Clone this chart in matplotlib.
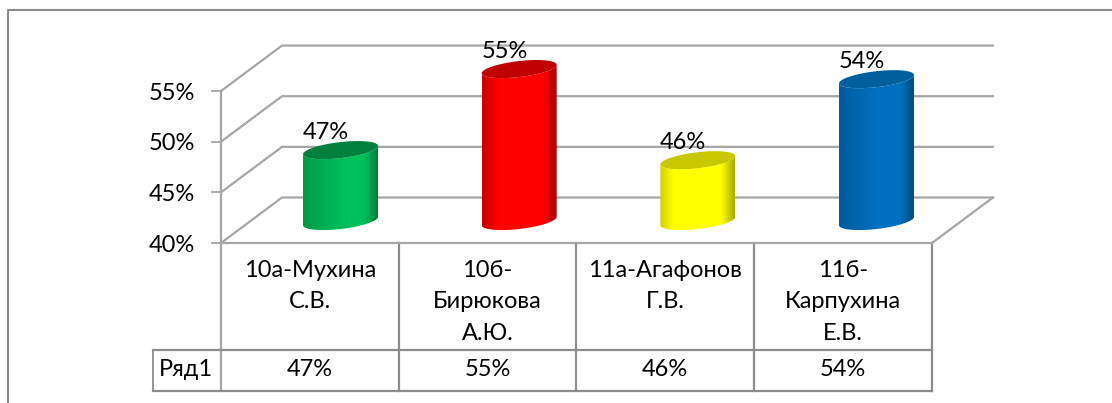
import matplotlib
matplotlib.use('Agg')
import matplotlib.pyplot as plt
from matplotlib.colors import LinearSegmentedColormap
from matplotlib.patches import Polygon
import numpy as np

plt.rcParams['font.family'] = ['Lato', 'Open Sans', 'DejaVu Sans']

W, H = 1112, 403

groups = ['10а-Мухина\nС.В.', '10б-\nБирюкова\nА.Ю.', '11а-Агафонов\nГ.В.', '11б-\nКарпухина\nЕ.В.']
values = [47, 55, 46, 54]
yticks = [40, 45, 50, 55]
series_name = 'Ряд1'
top_colors = ['#007f3d', '#c00000', '#c8c800', '#005f9f']
mid_colors = ['#00c05a', '#ff0000', '#ffff00', '#0070c0']
left_colors = ['#009c49', '#c80000', '#d0d000', '#005c9e']
right_colors = ['#007a3a', '#a00000', '#a8a800', '#00497d']
mid_stops = [0.55, 0.22, 0.18, 0.5]

grid_col = '#a6a6a6'
dark_col = '#8c8c8c'
txt_col = '#000000'

# pixel layout of the plot: category unit and percent unit
x0_px, y40_px = 221, 243
cat_px = 177.75
pct_px = 10.13
dx = 61 / cat_px        # oblique depth, in data units
dy = 45.5 / pct_px

fig = plt.figure(figsize=(W / 100, H / 100), dpi=100)
ax = fig.add_axes([0, 0, 1, 1])
ax.axis('off')


def px_x(p):
    return (p - x0_px) / cat_px


def px_y(p):
    return 40 + (y40_px - p) / pct_px


# outer frame, only left and top are visible
ax.plot([px_x(8), px_x(8), px_x(W)], [px_y(H), px_y(10), px_y(10)], color=dark_col, lw=1.5)

n = len(groups)

# walls and gridlines
for v in yticks:
    ax.plot([0, dx, n + dx], [v, v + dy, v + dy], color=grid_col, lw=1.6)
    ax.plot([px_x(212), 0], [v, v], color=grid_col, lw=1.3)
    ax.text(px_x(195), v - 0.2, '%d%%' % v, ha='right', va='center', fontsize=17, color=txt_col)
ax.plot([n, n + dx], [40, 40 + dy], color=grid_col, lw=1.6)
ax.plot([0, 0], [40, yticks[-1]], color=grid_col, lw=1.6)

# cylinders
a = 37.5 / cat_px
b = 8 / pct_px
s = 4.2 / pct_px
base = 22 / pct_px   # height of the cylinder base above the floor edge
t = np.linspace(0, 2 * np.pi, 121)
for i, v in enumerate(values):
    cx = px_x(340.5 + i * 178.67)
    cy0 = 40 + base
    cy1 = v + base
    ang = np.linspace(np.pi, 2 * np.pi, 60)
    # lower arc of the base, then up the right side and back over the top
    xs = np.r_[cx + a * np.cos(ang), cx + a * np.cos(ang[::-1])]
    ys = np.r_[cy0 + b * np.sin(ang) + s * np.cos(ang), cy1 + b * np.sin(ang[::-1]) + s * np.cos(ang[::-1])]
    cm = LinearSegmentedColormap.from_list('c', [(0, left_colors[i]), (mid_stops[i], mid_colors[i]), (0.82, mid_colors[i]), (1, right_colors[i])])
    body = Polygon(np.c_[xs, ys], closed=True, fc='none', ec='none', transform=ax.transData)
    ax.add_patch(body)
    g = np.linspace(0, 1, 256).reshape(1, -1)
    im = ax.imshow(g, cmap=cm, aspect='auto', extent=[cx - a, cx + a, cy0 - 2, cy1 + 2], zorder=3,
                   interpolation='bilinear')
    im.set_clip_path(body)
    ax.fill(cx + a * np.cos(t), cy1 + b * np.sin(t) + s * np.cos(t), color=top_colors[i], lw=0, zorder=4)
    ax.text(cx - 14.5 / cat_px, cy1 + 18 / pct_px, '%d%%' % v, ha='center', va='center', fontsize=17, color=txt_col, zorder=5)

# imshow changes the limits, so set them last
ax.set_xlim(-x0_px / cat_px, (W - x0_px) / cat_px)
ax.set_ylim(40 - (H - y40_px) / pct_px, 40 + y40_px / pct_px)

# data table under the plot
row1, row2, row3 = y40_px, 350, 391
for i in range(n + 1):
    ax.plot([i, i], [px_y(row1), px_y(row3)], color=grid_col if i == 0 else dark_col, lw=1.6)
ax.plot([0, n], [px_y(row1), px_y(row1)], color=grid_col, lw=1.6)
ax.plot([px_x(153), n], [px_y(row2), px_y(row2)], color=dark_col, lw=1.6)
ax.plot([px_x(153), n], [px_y(row3), px_y(row3)], color=dark_col, lw=1.6)
ax.plot([px_x(153), px_x(153)], [px_y(row2), px_y(row3)], color=dark_col, lw=1.3)
ax.text(px_x(186), px_y(369), series_name, ha='center', va='center', fontsize=17, color=txt_col)
for i, g in enumerate(groups):
    for j, line in enumerate(g.split('\n')):
        ax.text(i + 0.5, px_y(270 + j * 32), line, ha='center', va='center', fontsize=17, color=txt_col)
    ax.text(i + 0.5, px_y(369), '%d%%' % values[i], ha='center', va='center', fontsize=17, color=txt_col)

fig.savefig('out.png', dpi=100)
